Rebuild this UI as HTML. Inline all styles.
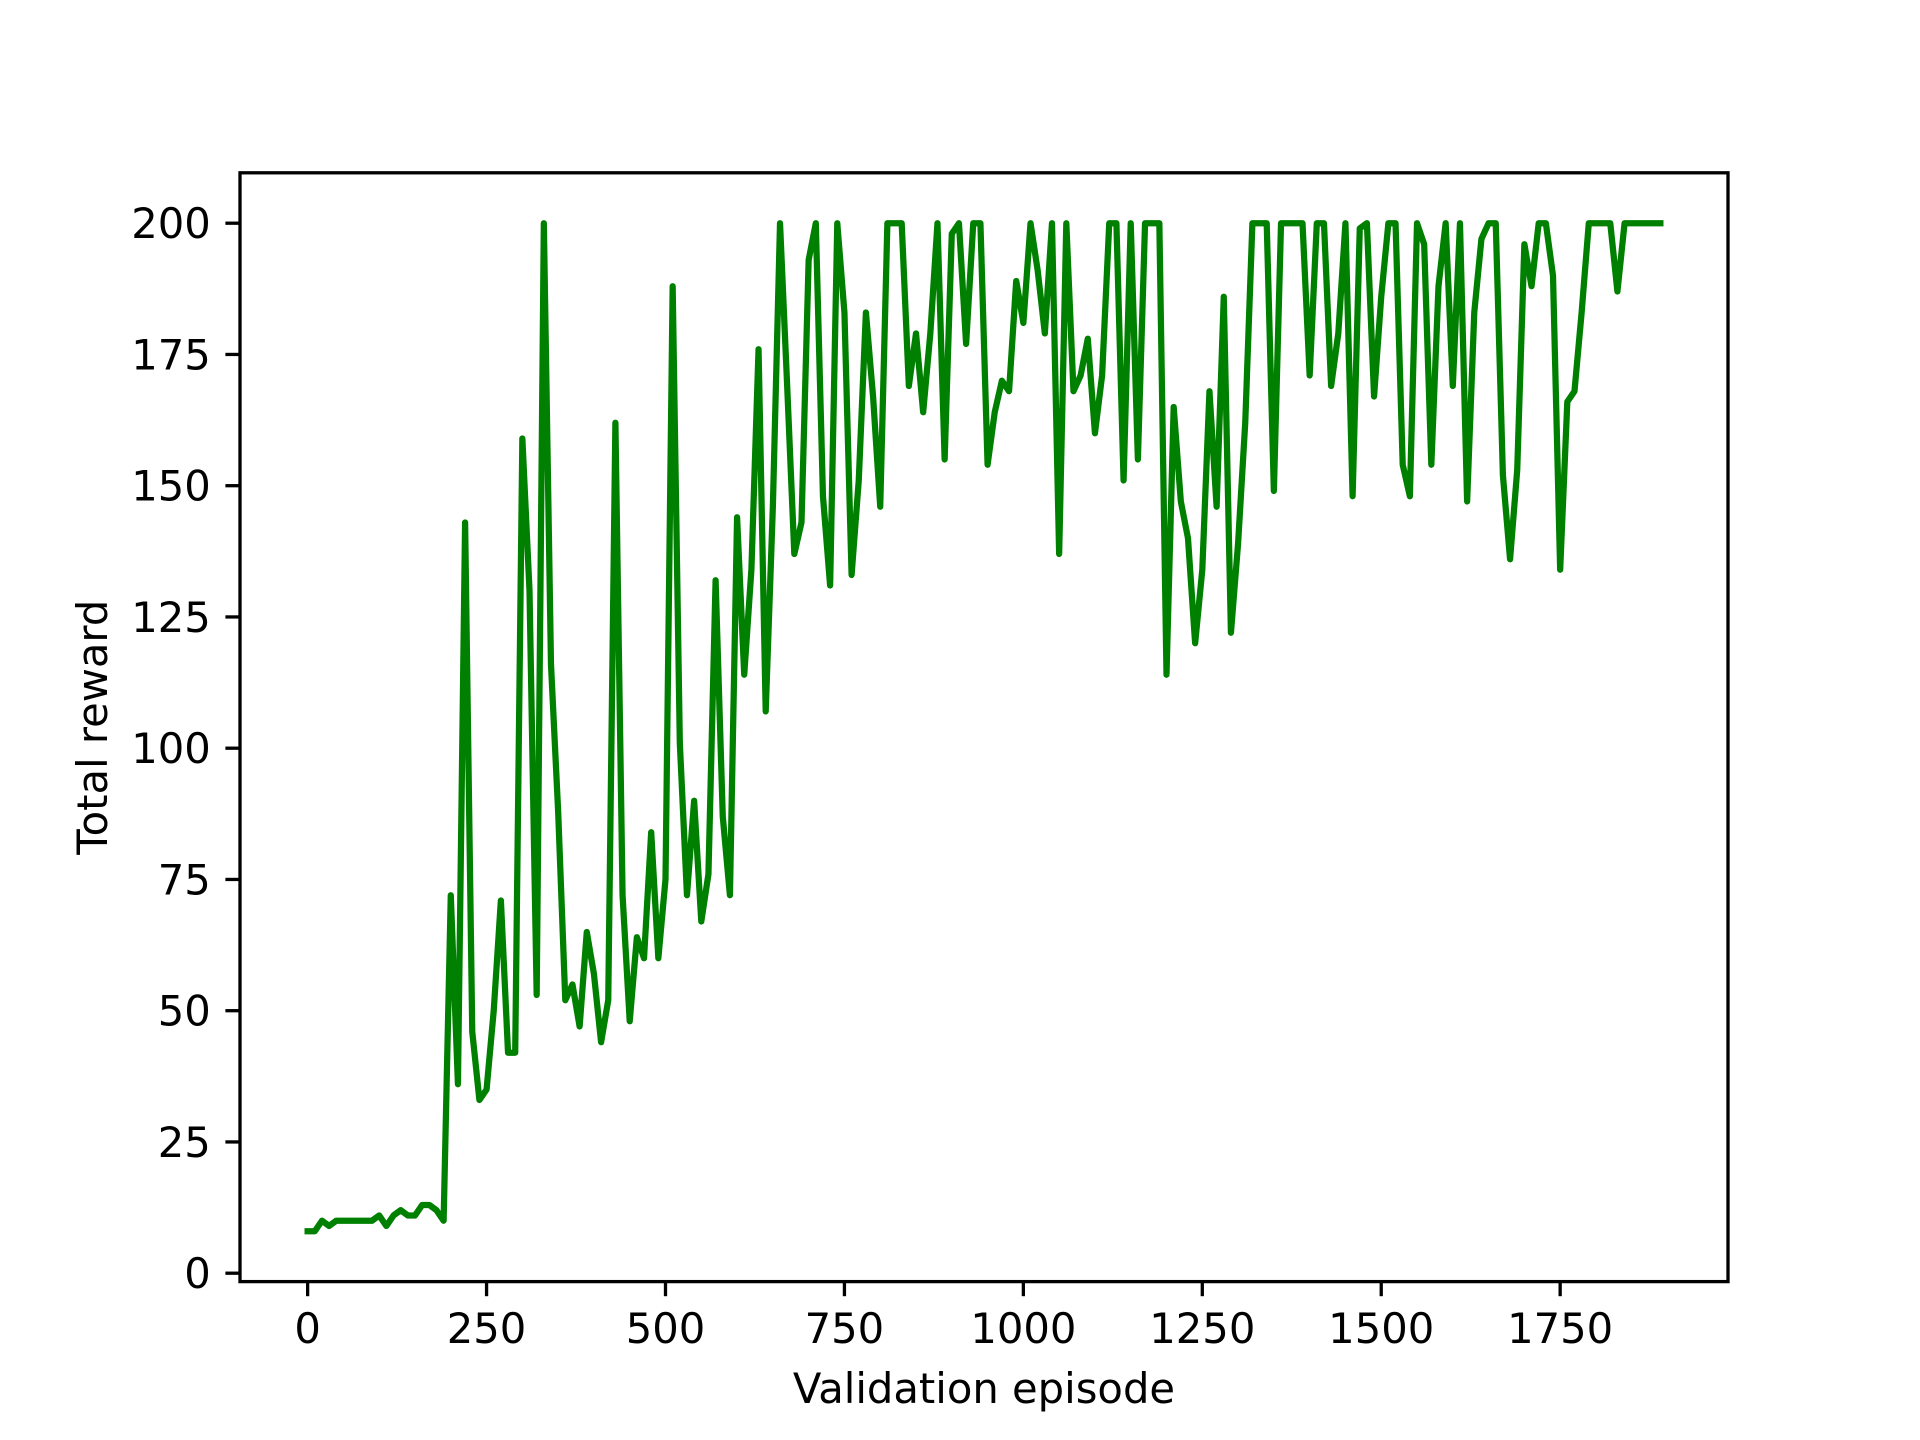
<!DOCTYPE html>
<html><head><meta charset="utf-8"><style>
html,body{margin:0;padding:0;background:#fff}
svg{display:block}
text{font-family:"DejaVu Sans","Liberation Sans",sans-serif;font-size:41.7px;fill:#000}
</style></head><body>
<svg id="chart" width="1920" height="1440" viewBox="0 0 1920 1440" xmlns="http://www.w3.org/2000/svg">
<rect width="1920" height="1440" fill="#fff"/>
<g id="plot"></g>
</svg>
<script>
const episodeStep = 10;
const rewards = [
8,8,10,9,10,10,10,10,10,10,11,9,11,12,11,11,13,13,12,10,
72,36,143,46,33,35,50,71,42,42,
159,130,53,200,116,88,52,55,47,65,
57,44,52,162,72,48,64,60,84,60,
75,188,101,72,90,67,76,132,87,72,
144,114,134,176,107,146,200,169,137,143,
193,200,148,131,200,183,133,151,183,167,
146,200,200,200,169,179,164,179,200,155,
198,200,177,200,200,154,164,170,168,189,
181,200,191,179,200,137,200,168,171,178,
160,171,200,200,151,200,155,200,200,200,
114,165,147,140,120,134,168,146,186,122,
139,162,200,200,200,149,200,200,200,200,
171,200,200,169,179,200,148,199,200,167,
186,200,200,154,148,200,196,154,188,200,
169,200,147,183,197,200,200,152,136,153,
196,188,200,200,190,134,166,168,183,200,
200,200,200,187,200,200,200,200,200,200
];
const xTicks = [0,250,500,750,1000,1250,1500,1750];
const yTicks = [0,25,50,75,100,125,150,175,200];
const xLabelText = "Validation episode";
const yLabelText = "Total reward";

const NS = "http://www.w3.org/2000/svg";
const L = 240, R = 1728, T = 172.8, B = 1281.6;
const episodes = rewards.map((_, i) => i * episodeStep);
const xMin = Math.min(...episodes), xMax = Math.max(...episodes);
const yMinD = Math.min(...rewards), yMaxD = Math.max(...rewards);
const xPad = (xMax - xMin) * 0.05, yPad = (yMaxD - yMinD) * 0.05;
const x0 = xMin - xPad, x1 = xMax + xPad, y0 = yMinD - yPad, y1 = yMaxD + yPad;
function sx(v){ return L + (v - x0) / (x1 - x0) * (R - L); }
function sy(v){ return B - (v - y0) / (y1 - y0) * (B - T); }
const g = document.getElementById('plot');
function mk(tag, attrs){ const e = document.createElementNS(NS, tag); for (const k in attrs) e.setAttribute(k, attrs[k]); g.appendChild(e); return e; }

const pts = episodes.map((x, i) => sx(x).toFixed(2) + ',' + sy(rewards[i]).toFixed(2)).join(' ');
const line = mk('polyline', {points: pts, fill: 'none', stroke: '#008000', 'stroke-width': 6.25, 'stroke-linejoin': 'round', 'stroke-linecap': 'square'});



const frame = mk('rect', {x: L, y: T, width: R - L, height: B - T, fill: 'none', stroke: '#000', 'stroke-width': 3.3});



xTicks.forEach(t => {
  const X = sx(t);
  const tk = mk('line', {x1: X, x2: X, y1: B, y2: B + 14.6, stroke: '#000', 'stroke-width': 3.3});
  
  
  const lb = mk('text', {x: X, y: B + 14.6 + 14.6 + 32, 'text-anchor': 'middle'});
  lb.textContent = t;
  
  
});
yTicks.forEach(t => {
  const Y = sy(t);
  const tk = mk('line', {x1: L - 14.6, x2: L, y1: Y, y2: Y, stroke: '#000', 'stroke-width': 3.3});
  
  
  const lb = mk('text', {x: L - 14.6 - 14.6, y: Y + 15, 'text-anchor': 'end'});
  lb.textContent = t;
  
  
});
const xl = mk('text', {x: (L + R) / 2, y: 1403, 'text-anchor': 'middle'});
xl.textContent = xLabelText;


const yl = mk('text', {x: 0, y: 0, 'text-anchor': 'middle', transform: 'translate(107,' + ((T + B) / 2) + ') rotate(-90)'});
yl.textContent = yLabelText;


</script>
</body></html>
